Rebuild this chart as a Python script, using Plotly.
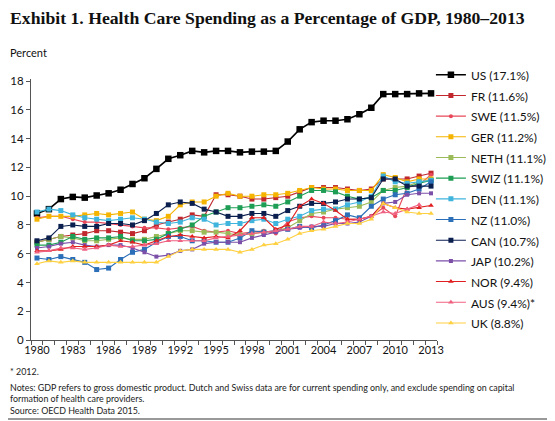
import plotly.graph_objects as go

years = list(range(1980, 2014))

us = [8.8, 9.1, 9.8, 9.95, 9.9, 10.05, 10.2, 10.45, 10.85, 11.25, 11.9, 12.6, 12.85, 13.15, 13.05, 13.15, 13.15,
      13.05, 13.1, 13.1, 13.15, 13.8, 14.65, 15.15, 15.25, 15.25, 15.35, 15.7, 16.15, 17.1, 17.1, 17.1, 17.15, 17.15]
fr = [6.8, 7.0, 7.2, 7.3, 7.4, 7.6, 7.6, 7.5, 7.4, 7.6, 8.0, 8.2, 8.4, 8.7, 8.6, 10.1, 10.1, 10.0, 9.8, 9.8,
      9.9, 10.0, 10.3, 10.6, 10.6, 10.6, 10.5, 10.4, 10.5, 11.2, 11.2, 11.2, 11.4, 11.6]
swe = [8.5, 8.6, 8.6, 8.4, 8.2, 8.2, 8.1, 8.0, 7.9, 7.8, 7.8, 7.7, 7.8, 7.9, 7.6, 7.5, 7.6, 7.4, 7.5, 7.6,
       7.4, 8.2, 8.5, 8.6, 8.5, 8.5, 8.4, 8.4, 8.6, 9.2, 8.6, 10.6, 10.8, 11.5]
ger = [8.4, 8.6, 8.6, 8.6, 8.7, 8.8, 8.7, 8.8, 8.9, 8.4, 8.3, 8.6, 9.4, 9.6, 9.6, 10.0, 10.2, 10.0, 10.0, 10.1,
       10.1, 10.2, 10.4, 10.6, 10.5, 10.5, 10.4, 10.4, 10.4, 11.5, 11.3, 11.0, 11.2, 11.2]
neth = [6.8, 7.0, 7.2, 7.1, 6.9, 6.9, 7.0, 7.1, 7.0, 7.0, 7.2, 7.4, 7.6, 7.6, 7.5, 7.5, 7.4, 7.3, 7.4, 7.5,
        7.6, 7.8, 8.3, 8.8, 8.9, 9.1, 9.2, 9.3, 9.6, 10.4, 10.6, 10.7, 11.0, 11.1]
swiz = [6.6, 6.6, 6.8, 7.2, 7.0, 7.1, 7.1, 7.2, 6.9, 6.9, 7.0, 7.4, 7.7, 8.0, 8.6, 8.9, 9.2, 9.2, 9.3, 9.4,
        9.3, 9.6, 10.0, 10.4, 10.4, 10.3, 10.0, 9.8, 9.9, 10.4, 10.4, 10.6, 10.9, 11.1]
den = [8.9, 9.1, 9.0, 8.7, 8.5, 8.4, 8.3, 8.4, 8.5, 8.4, 8.2, 8.1, 8.2, 8.5, 8.4, 8.0, 8.1, 8.1, 8.3, 8.4,
       8.1, 8.4, 8.6, 9.0, 9.1, 9.1, 9.4, 9.6, 10.0, 11.4, 11.0, 10.9, 11.0, 11.1]
nz = [5.7, 5.6, 5.8, 5.6, 5.4, 4.9, 5.0, 5.6, 6.1, 6.3, 6.8, 7.2, 7.2, 6.9, 6.9, 6.8, 6.8, 7.1, 7.6, 7.5,
      7.6, 7.7, 7.9, 7.8, 8.0, 8.3, 8.7, 8.5, 9.3, 9.8, 10.1, 10.2, 10.5, 11.0]
can = [6.9, 7.1, 7.9, 8.0, 7.9, 7.9, 8.1, 8.1, 8.0, 8.3, 8.8, 9.4, 9.6, 9.5, 9.1, 8.9, 8.6, 8.6, 8.8, 8.8,
       8.6, 9.0, 9.3, 9.5, 9.5, 9.6, 9.8, 9.8, 9.9, 11.2, 11.2, 10.7, 10.7, 10.7]
jap = [6.4, 6.5, 6.7, 6.8, 6.6, 6.5, 6.6, 6.6, 6.4, 6.1, 5.8, 5.9, 6.2, 6.3, 6.7, 6.8, 6.8, 6.8, 7.1, 7.3,
       7.5, 7.7, 7.8, 7.9, 7.9, 8.1, 8.1, 8.2, 8.6, 9.5, 9.6, 10.1, 10.2, 10.2]
nor = [6.2, 6.2, 6.3, 6.5, 6.5, 6.5, 6.6, 6.9, 6.8, 6.6, 6.9, 7.2, 7.3, 7.2, 7.1, 7.2, 7.1, 7.6, 8.5, 8.5,
       7.7, 8.0, 9.3, 9.8, 9.5, 9.0, 8.4, 8.4, 8.6, 9.5, 9.2, 9.1, 9.2, 9.35]
aus = [6.1, 6.2, 6.4, 6.4, 6.3, 6.4, 6.6, 6.5, 6.5, 6.6, 6.7, 6.9, 6.9, 6.9, 6.9, 7.1, 7.2, 7.3, 7.4, 7.5,
       7.6, 7.7, 7.9, 7.9, 8.2, 8.1, 8.2, 8.4, 8.6, 8.9, 8.8, 9.1, 9.4, None]
uk = [5.3, 5.5, 5.4, 5.5, 5.4, 5.4, 5.4, 5.4, 5.4, 5.4, 5.4, 5.8, 6.2, 6.3, 6.3, 6.3, 6.3, 6.1, 6.3, 6.6,
      6.7, 7.0, 7.4, 7.6, 7.7, 7.9, 8.1, 8.1, 8.4, 9.5, 9.2, 8.9, 8.8, 8.8]

labels = ["US (17.1%)", "FR (11.6%)", "SWE (11.5%)", "GER (11.2%)", "NETH (11.1%)", "SWIZ (11.1%)",
          "DEN (11.1%)", "NZ (11.0%)", "CAN (10.7%)", "JAP (10.2%)", "NOR (9.4%)", "AUS (9.4%)*", "UK (8.8%)"]
series = [us, fr, swe, ger, neth, swiz, den, nz, can, jap, nor, aus, uk]

# colour, marker symbol, marker size
styles = [
    ("#000000", "square", 6.5),
    ("#c0282d", "square", 5),
    ("#e8485a", "circle", 4),
    ("#f5b400", "square", 5),
    ("#9bbb59", "square", 5),
    ("#1e9e55", "square", 5),
    ("#3fb4dc", "square", 5),
    ("#2a6fb8", "square", 5),
    ("#0b1f4f", "square", 5),
    ("#7b4fa8", "square", 4),
    ("#e02020", "triangle-up", 5),
    ("#f06080", "triangle-up", 5),
    ("#ffd040", "triangle-up", 5),
]

_FONT = "Lato"
# the page puts the figure 8px in from the top-left corner, so the figure is
# drawn 8px smaller than the window and everything sits 8px up and left
_LEFT_EDGE = -23 / 406

fig = go.Figure()
for name, values, (color, symbol, size) in zip(labels, series, styles):
    fig.add_scatter(
        x=years,
        y=values,
        mode="lines+markers",
        # legend rows are spaced by the legend font; the label itself is a bit smaller
        name=f'<span style="font-size:12px">{name}</span>',
        line={"color": color, "width": 1.6 if name.startswith("US") else 1.1},
        marker={"color": color, "symbol": symbol, "size": size},
    )

fig.update_layout(
    width=547,
    height=413,
    margin={"l": 23, "r": 118, "t": 71, "b": 81, "autoexpand": False},
    paper_bgcolor="white",
    plot_bgcolor="white",
    font={"family": _FONT, "color": "#111111", "size": 11},
    showlegend=True,
    legend={
        "x": 0.985,
        "y": 1.075,
        "xanchor": "left",
        "yanchor": "top",
        "font": {"size": 13.6, "family": _FONT, "color": "#111111"},
        "tracegroupgap": 0,
        "itemwidth": 30,
        "maxheight": 390,
        "bgcolor": "rgba(0,0,0,0)",
    },
    xaxis={
        "range": [1979.5, 2013.5],
        "automargin": False,
        "tickmode": "array",
        "tickvals": list(range(1980, 2014, 3)),
        "ticks": "",
        "showgrid": False,
        "showline": True,
        "linecolor": "#555555",
        "linewidth": 1,
        "zeroline": False,
        "tickfont": {"size": 11, "family": _FONT, "color": "#111111"},
        "minor": {"tick0": 1979.5, "dtick": 1, "ticks": "outside", "ticklen": 4,
                  "tickcolor": "#555555", "showgrid": False},
    },
    yaxis={
        "range": [0, 18.15],
        "automargin": False,
        "tickmode": "array",
        "tickvals": list(range(0, 19, 2)),
        "ticks": "outside",
        "ticklen": 4,
        "tickcolor": "#555555",
        "showgrid": False,
        "showline": True,
        "linecolor": "#555555",
        "linewidth": 1,
        "zeroline": False,
        "tickfont": {"size": 11.5, "family": _FONT, "color": "#111111"},
    },
)

fig.add_annotation(
    text="<b>Exhibit 1. Health Care Spending as a Percentage of GDP, 1980–2013</b>",
    xref="paper", yref="paper", x=_LEFT_EDGE, y=1.0, yshift=61,
    xanchor="left", yanchor="middle", showarrow=False,
    font={"family": "Liberation Serif", "size": 17.7, "color": "#111111"},
)
fig.add_annotation(
    text="Percent",
    xref="paper", yref="paper", x=_LEFT_EDGE, y=1.0, yshift=27,
    xanchor="left", yanchor="middle", showarrow=False,
    font={"family": _FONT, "size": 11, "color": "#111111"},
)

notes = [
    (31, "* 2012."),
    (47, "Notes: GDP refers to gross domestic product. Dutch and Swiss data are for current spending only, and exclude spending on capital"),
    (58, "formation of health care providers."),
    (70, "Source: OECD Health Data 2015."),
]
for offset, line in notes:
    fig.add_annotation(
        text=line,
        xref="paper", yref="paper", x=_LEFT_EDGE, y=0.0, yshift=-offset,
        xanchor="left", yanchor="middle", showarrow=False,
        font={"family": _FONT, "size": 8.9, "color": "#222222"},
    )

fig.add_shape(
    type="line", xref="paper", yref="paper", x0=-0.08, x1=1.3, y0=-0.303, y1=-0.303,
    line={"color": "#999999", "width": 2},
)

fig.write_html("out.html")
